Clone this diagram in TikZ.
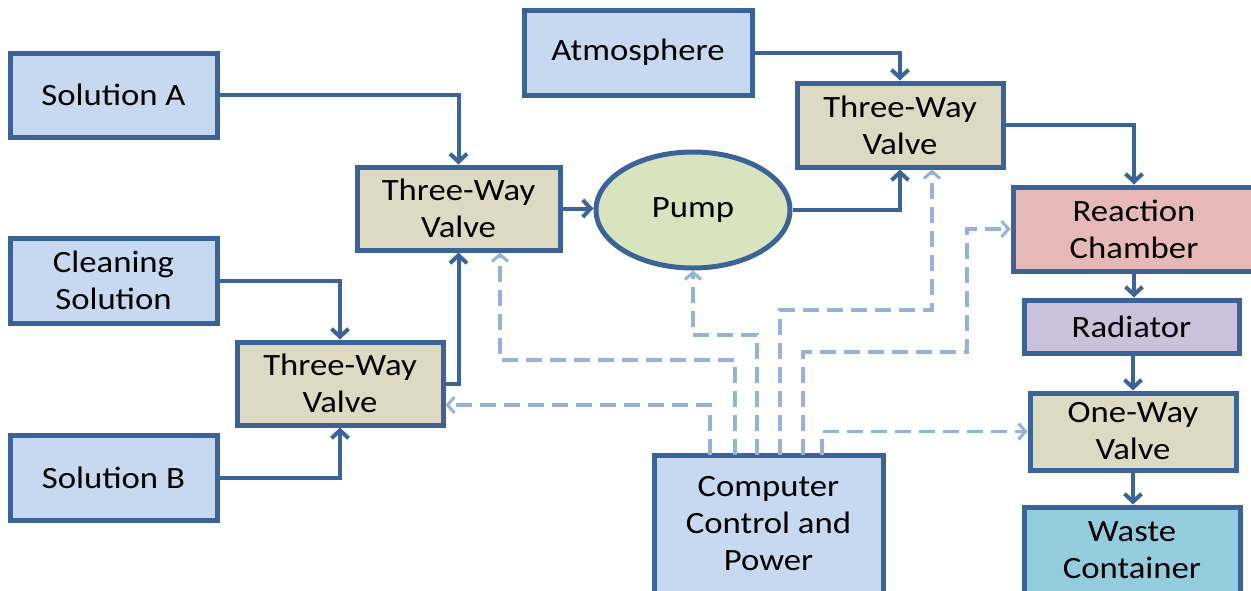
\documentclass[tikz,border=0pt]{standalone}
\usepackage{fontspec}
\setmainfont{Carlito}[FakeStretch=1.12]
\usetikzlibrary{arrows.meta,calc,shapes.geometric}
\definecolor{edgeblue}{HTML}{3B6397}
\definecolor{lineblue}{HTML}{3D6499}
\definecolor{ctrlblue}{HTML}{95B3D7}
\definecolor{fillblue}{HTML}{C6D9F1}
\definecolor{fillvalve}{HTML}{DDD9C3}
\definecolor{fillpump}{HTML}{D7E4BD}
\definecolor{fillrc}{HTML}{E6B9B8}
\definecolor{fillrad}{HTML}{CCC1DA}
\definecolor{fillwaste}{HTML}{93CDDD}
\tikzset{
  blk/.style={draw=edgeblue, line width=5pt, rectangle, align=center, inner sep=0pt,
    font=\fontsize{31}{37}\selectfont},
  bluebox/.style={blk, fill=fillblue},
  valvebox/.style={blk, fill=fillvalve},
  flow/.style={draw=lineblue, line width=4pt, -{Straight Barb[length=8pt,width=17pt,line width=4pt]}},
  ctrl/.style={draw=ctrlblue, line width=3.5pt, dash pattern=on 16pt off 8pt,
    -{Straight Barb[length=7pt,width=16pt,line width=3pt]}},
}
\begin{document}
\begin{tikzpicture}[x=1pt,y=-1pt]
\useasboundingbox (0,0) rectangle (1251,590);
% nodes
\node[bluebox, minimum width=207, minimum height=84] (solA) at (113.5,95) {Solution A};
\node[bluebox, minimum width=207, minimum height=85] (clean) at (113.5,280.5) {Cleaning\\Solution};
\node[bluebox, minimum width=207, minimum height=85] (solB) at (113.5,477.5) {Solution B};
\node[valvebox, minimum width=203, minimum height=83] (v1) at (458.5,208.5) {Three-Way\\Valve};
\node[valvebox, minimum width=206, minimum height=83] (v2) at (340,383.5) {Three-Way\\Valve};
\node[blk, ellipse, fill=fillpump, minimum width=194, minimum height=116] (pump) at (693,210) {Pump};
\node[bluebox, minimum width=228, minimum height=85] (atm) at (638,52.5) {Atmosphere};
\node[valvebox, minimum width=206, minimum height=84] (v3) at (900,125) {Three-Way\\Valve};
\node[blk, fill=fillrc, minimum width=242, minimum height=84] (rc) at (1134,229) {Reaction\\Chamber};
\node[blk, fill=fillrad, minimum width=215, minimum height=53] (rad) at (1131.5,326.5) {Radiator};
\node[valvebox, minimum width=206, minimum height=77] (owv) at (1133,431.5) {One-Way\\Valve};
\node[blk, fill=fillwaste, minimum width=216, minimum height=87] (waste) at (1132,550.5) {Waste\\Container};
\node[bluebox, minimum width=229, minimum height=138] (comp) at (768.5,524) {Computer\\Control and\\Power};
% solid flow connectors
\draw[flow] (solA.east) -| (v1.north);
\draw[flow] (clean.east) -| (v2.north);
\draw[flow] (solB.east) -| (v2.south);
\draw[flow] (v2.east) -| (v1.south);
\draw[flow] (v1.east) -- (v1.east -| pump.west);
\draw[flow] (pump.east) -| (v3.south);
\draw[flow] (atm.east) -| (v3.north);
\draw[flow] (v3.east) -| (rc.north);
\draw[flow] (rc.south) -- (rc.south |- rad.north);
\draw[flow] (owv.north |- rad.south) -- (owv.north);
\draw[flow] (owv.south) -- (owv.south |- waste.north);
% control lines
\coordinate (c1) at (710,455);
\coordinate (c2) at (735,455);
\coordinate (c3) at (757,455);
\coordinate (c4) at (780,455);
\coordinate (c5) at (803,455);
\coordinate (c6) at (822,455);
\draw[ctrl] (c1) |- ($(v2.east)+(0,21.5)$);
\draw[ctrl] (c2) -- ++(0,-95) -| ($(v1.south)+(41.5,0)$);
\draw[ctrl] (c3) -- ++(0,-120) -| (pump.south);
\draw[ctrl] (c4) -- ++(0,-145) -| ($(v3.south)+(32,0)$);
\draw[ctrl] (c5) -- ++(0,-103) -- ++(164,0) |- (rc.west);
\draw[ctrl] (c6) |- (owv.west);
\end{tikzpicture}
\end{document}
